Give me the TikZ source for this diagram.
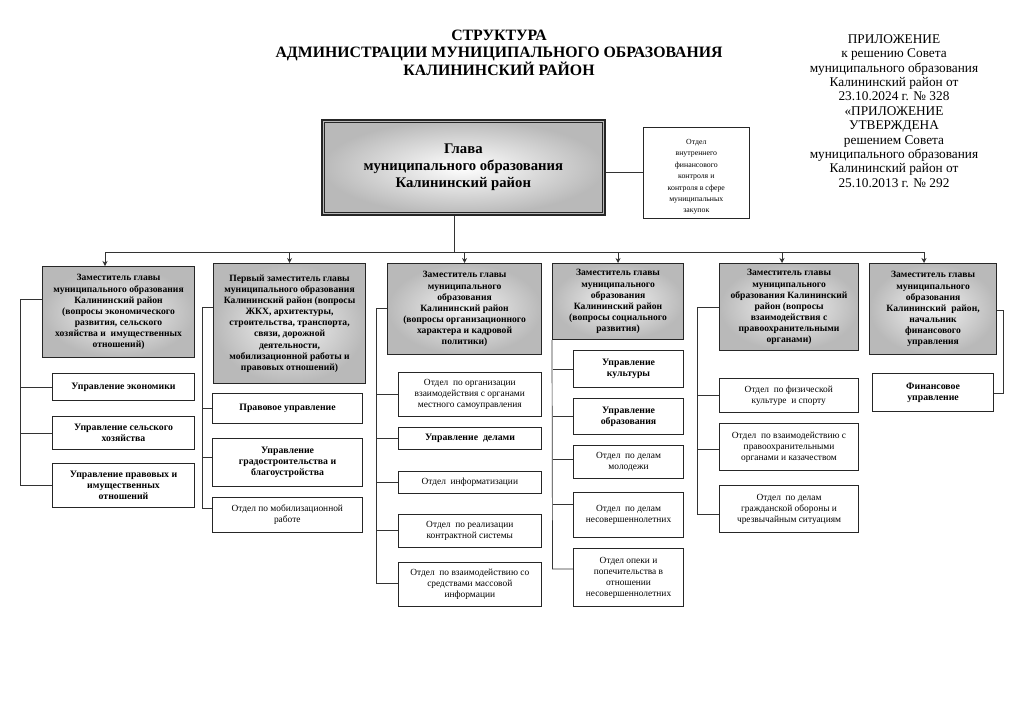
\documentclass[tikz,border=0pt]{standalone}
\usepackage{fontspec}
\setmainfont{Liberation Serif}
\usetikzlibrary{arrows.meta}
\tikzset{
  dep/.style={draw=black!85, line width=1.1pt, shading=radial, inner color=gray!8, outer color=gray!55,
    align=center, font=\fontsize{9.6}{11.1}\selectfont\bfseries, inner sep=1pt, anchor=north west},
  sub/.style={draw=black!85, line width=0.6pt, fill=white, align=center,
    font=\fontsize{9.4}{11}\selectfont, inner sep=1pt, anchor=north west},
  subb/.style={sub, line width=1.1pt, font=\fontsize{9.8}{11}\selectfont\bfseries},
  subt/.style={sub, line width=1.1pt},
  link/.style={draw=black!80, line width=0.7pt},
  arr/.style={link, -{Stealth[length=5pt,width=5pt]}}
}
\newcommand{\bx}[5]{\node[#1, minimum width=#4-#2, minimum height=#5-#3] at (#2,#3)}
\begin{document}
\begin{tikzpicture}[x=1pt,y=-1pt]
\useasboundingbox (0,0) rectangle (1023,724);
\fill[white] (0,0) rectangle (1023,724);

% title
\node[align=center, font=\fontsize{15.8}{16.7}\selectfont\bfseries] (title) at (499,53)
 {СТРУКТУРА\\АДМИНИСТРАЦИИ МУНИЦИПАЛЬНОГО ОБРАЗОВАНИЯ\\КАЛИНИНСКИЙ РАЙОН};
\node[align=center, font=\fontsize{13.3}{14.4}\selectfont] (app) at (894,111)
 {ПРИЛОЖЕНИЕ\\к решению Совета\\муниципального образования\\Калининский район от\\23.10.2024 г. № 328\\«ПРИЛОЖЕНИЕ\\УТВЕРЖДЕНА\\решением Совета\\муниципального образования\\Калининский район от\\25.10.2013 г. № 292};

% head
\bx{draw=black!85, line width=1.6pt, shading=radial, inner color=white, outer color=gray!55, anchor=north west, align=center, font=\fontsize{14.7}{16.7}\selectfont\bfseries}{321}{119}{604}{214}
 (head) {Глава\\муниципального образования\\Калининский район};
\draw[black!85, line width=0.6pt] ([shift={(3.5,3.5)}]head.north west) rectangle ([shift={(-3.5,-3.5)}]head.south east);
\bx{sub, font=\fontsize{7.8}{11.4}\selectfont}{643}{127}{749}{218} (ctrl)
 {\rule{0pt}{13.5pt}Отдел\\внутреннего\\финансового\\контроля и\\контроля в сфере\\муниципальных\\закупок};
\draw[link] (head.east |- ctrl.west) -- (ctrl.west);

% deputies
\bx{dep}{42}{266}{194}{357} (d1) {Заместитель главы\\муниципального образования\\Калининский район\\(вопросы экономического\\развития, сельского\\хозяйства и \ имущественных\\отношений)};
\bx{dep}{213}{263}{365}{383} (d2) {Первый заместитель главы\\муниципального образования\\Калининский район (вопросы\\ЖКХ, архитектуры,\\строительства, транспорта,\\связи, дорожной\\деятельности,\\мобилизационной работы и\\правовых отношений)};
\bx{dep}{387}{263}{541}{354} (d3) {Заместитель главы\\муниципального\\образования\\Калининский район\\(вопросы организационного\\характера и кадровой\\политики)};
\bx{dep}{552}{263}{683}{339} (d4) {Заместитель главы\\муниципального\\образования\\Калининский район\\(вопросы социального\\развития)};
\bx{dep}{719}{263}{858}{350} (d5) {Заместитель главы\\муниципального\\образования Калининский\\район (вопросы\\взаимодействия с\\правоохранительными\\органами)};
\bx{dep}{869}{263}{996}{354} (d6) {Заместитель главы\\муниципального\\образования\\Калининский \ район,\\начальник\\финансового\\управления};

% top bus
\coordinate (hb) at (454,252);
\coordinate (bl) at (105,252);
\coordinate (br) at (924,252);
\coordinate (b5) at (782,252);
\draw[link] (head.south -| hb) -- (hb);
\draw[link] (bl) -- (br);
\draw[arr] (bl) -- (bl |- d1.north);
\draw[arr] (d2.north |- bl) -- (d2.north);
\draw[arr] (d3.north |- bl) -- (d3.north);
\draw[arr] (d4.north |- bl) -- (d4.north);
\draw[arr] (b5) -- (b5 |- d5.north);
\draw[arr] (br) -- (br |- d6.north);

% column 1
\bx{subb}{52}{373}{194}{400} (e11) {Управление экономики};
\bx{subb}{52}{416}{194}{449} (e12) {Управление сельского\\хозяйства};
\bx{subb}{52}{463}{194}{507} (e13) {Управление правовых и\\имущественных\\отношений};
\coordinate (c1) at (20,299);
\draw[link] (d1.west |- c1) -- (c1) -- (c1 |- e13.west) -- (e13.west);
\draw[link] (c1 |- e11.west) -- (e11.west);
\draw[link] (c1 |- e12.west) -- (e12.west);

% column 2
\bx{subb}{212}{393}{362}{423} (e21) {Правовое управление};
\bx{subb}{212}{438}{362}{486} (e22) {Управление\\градостроительства и\\благоустройства};
\bx{sub}{212}{497}{362}{532} (e23) {Отдел по мобилизационной\\работе};
\coordinate (c2) at (202,307);
\coordinate (c2e) at (202,508);
\coordinate (c2b) at (202,457);
\draw[link] (d2.west |- c2) -- (c2) -- (c2e) -- (c2e -| e23.west);
\draw[link] (c2 |- e21.west) -- (e21.west);
\draw[link] (c2b) -- (c2b -| e22.west);

% column 3
\bx{sub}{398}{372}{541}{416} (e31) {Отдел \ по организации\\взаимодействия с органами\\местного самоуправления};
\bx{subb}{398}{427}{541}{449} (e32) {Управление \ делами};
\bx{sub}{398}{471}{541}{493} (e33) {Отдел \ информатизации};
\bx{sub}{398}{514}{541}{547} (e34) {Отдел \ по реализации\\контрактной системы};
\bx{sub}{398}{562}{541}{606} (e35) {Отдел \ по взаимодействию со\\средствами массовой\\информации};
\coordinate (c3) at (376,308);
\coordinate (c3e) at (376,583);
\draw[link] (d3.west |- c3) -- (c3) -- (c3e) -- (c3e -| e35.west);
\draw[link] (c3 |- e31.west) -- (e31.west);
\draw[link] (c3 |- e32.west) -- (e32.west);
\draw[link] (c3 |- e33.west) -- (e33.west);
\draw[link] (c3 |- e34.west) -- (e34.west);

% column 4
\bx{subb}{573}{350}{683}{387} (e41) {Управление\\культуры};
\bx{subb}{573}{398}{683}{434} (e42) {Управление\\образования};
\bx{subt}{573}{445}{683}{478} (e43) {Отдел \ по делам\\молодежи};
\bx{subt}{573}{492}{683}{537} (e44) {Отдел \ по делам\\несовершеннолетних};
\bx{subt}{573}{548}{683}{606} (e45) {Отдел опеки и\\попечительства в\\отношении\\несовершеннолетних};
\coordinate (c4e) at (552.5,569);
\coordinate (c4c) at (552.5,459);
\coordinate (c4d) at (552.5,504);
\draw[link] (d4.south west) -- (c4e) -- (c4e -| e45.west);
\draw[link] (c4e |- e41.west) -- (e41.west);
\draw[link] (c4e |- e42.west) -- (e42.west);
\draw[link] (c4c) -- (c4c -| e43.west);
\draw[link] (c4d) -- (c4d -| e44.west);

% column 5
\bx{sub}{719}{378}{858}{412} (e51) {Отдел \ по физической\\культуре \ и спорту};
\bx{subt}{719}{423}{858}{470} (e52) {Отдел \ по взаимодействию с\\правоохранительными\\органами и казачеством};
\bx{subt}{719}{485}{858}{532} (e53) {Отдел \ по делам\\гражданской обороны и\\чрезвычайным ситуациям};
\coordinate (c5) at (697,307);
\coordinate (c5e) at (697,514);
\coordinate (c5b) at (697,449);
\draw[link] (d5.west |- c5) -- (c5) -- (c5e) -- (c5e -| e53.west);
\draw[link] (c5 |- e51.west) -- (e51.west);
\draw[link] (c5b) -- (c5b -| e52.west);

% column 6
\bx{subb}{872}{373}{993}{411} (e61) {Финансовое\\управление};
\coordinate (c6) at (1003,310);
\coordinate (c6e) at (1003,393);
\draw[link] (d6.east |- c6) -- (c6) -- (c6e) -- (c6e -| e61.east);
\end{tikzpicture}
\end{document}
